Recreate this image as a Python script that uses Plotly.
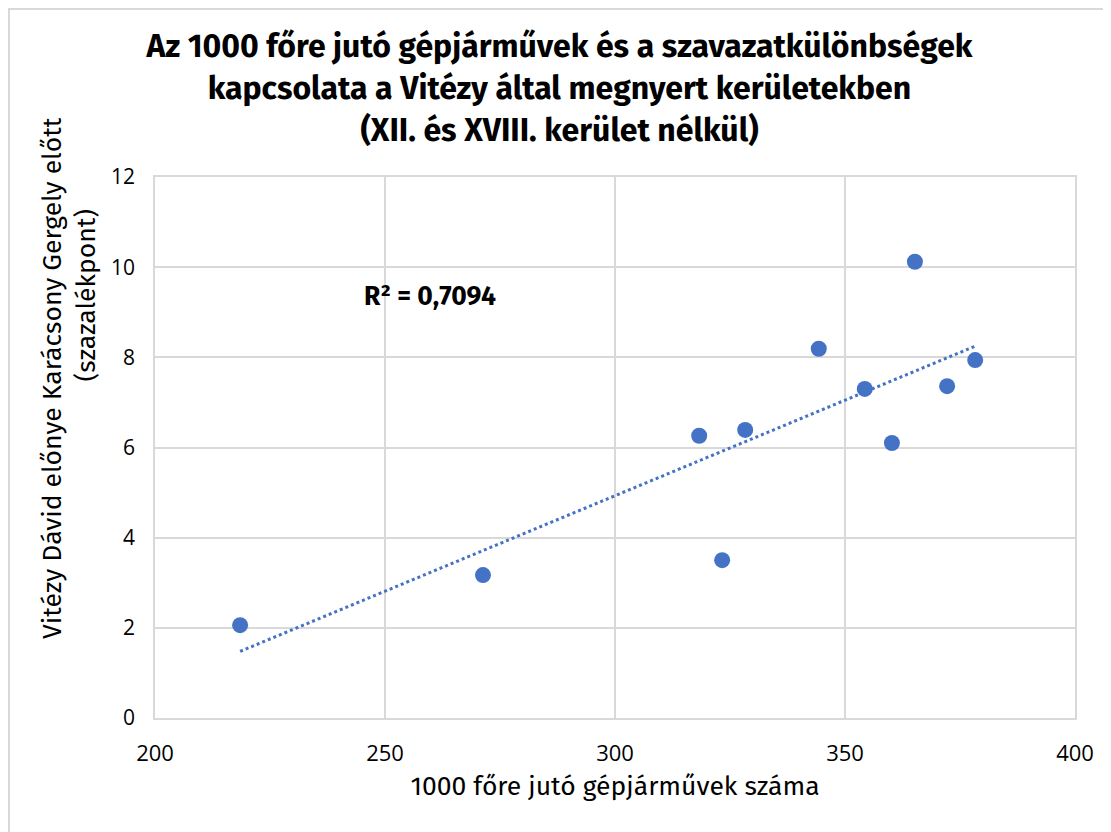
import numpy as np
import plotly.graph_objects as go

# data
cars_per_1000 = [218.5, 271.3, 318.3, 323.3, 328.3, 344.3, 354.3, 360.2, 365.2, 372.2, 378.3]
lead_points = [2.06, 3.17, 6.26, 3.50, 6.39, 8.19, 7.30, 6.10, 10.12, 7.36, 7.94]
r2_label = "R² = 0,7094"
x_ticks = [200, 250, 300, 350, 400]
y_ticks = [0, 2, 4, 6, 8, 10, 12]
y_title_lines = ["Vitézy Dávid előnye Karácsony Gergely előtt", "(szazalékpont)"]

color = "#4472C4"
font_family = "Fira Sans, Noto Sans, Open Sans, sans-serif"
tick_family = "Open Sans, sans-serif"

x = np.array(cars_per_1000)
y = np.array(lead_points)
slope, intercept = np.polyfit(x, y, 1)
tx = np.array([x.min(), x.max()])
ty = slope * tx + intercept

fig = go.Figure()
fig.add_trace(go.Scatter(x=tx, y=ty, mode="lines",
                         line=dict(color=color, width=3, dash="dot"),
                         hoverinfo="skip", showlegend=False))
fig.add_trace(go.Scatter(x=x, y=y, mode="markers",
                         marker=dict(color=color, size=16),
                         showlegend=False))

fig.add_annotation(x=0.225, y=9.36, xref="paper", yref="y",
                   text="<b>" + r2_label + "</b>", showarrow=False,
                   xanchor="left", yanchor="middle",
                   font=dict(size=26.5, color="#000000", family=font_family))

# y-axis title (two lines, placed as in the reference)
fig.add_annotation(x=-0.1120, y=0.6285, xref="paper", yref="paper",
                   text=y_title_lines[0], showarrow=False, textangle=-90,
                   xanchor="center", yanchor="middle",
                   font=dict(size=26.5, color="#000000", family=font_family))
fig.add_annotation(x=-0.0745, y=0.7819, xref="paper", yref="paper",
                   text=y_title_lines[1], showarrow=False, textangle=-90,
                   xanchor="center", yanchor="middle",
                   font=dict(size=26.5, color="#000000", family=font_family))

fig.update_layout(
    width=1103, height=824,
    paper_bgcolor="white", plot_bgcolor="white",
    margin=dict(l=147, r=36, t=169, b=114),
    title=dict(text="<b>Az 1000 főre jutó gépjárművek és a szavazatkülönbségek<br>kapcsolata a Vitézy által megnyert kerületekben<br>(XII. és XVIII. kerület nélkül)</b>",
               x=0.5, xanchor="center", y=0.94, yanchor="top",
               font=dict(size=32, color="#000000", family=font_family)),
    font=dict(family=font_family, color="#000000", size=18),
    xaxis=dict(range=[200, 400], tickvals=x_ticks, showgrid=True,
               gridcolor="#d9d9d9", gridwidth=1.5, zeroline=False,
               showline=True, linecolor="#d9d9d9", linewidth=1.5, mirror=True,
               ticks="", ticklen=0, ticklabelstandoff=15,
               tickfont=dict(size=22, family=tick_family),
               title=dict(text="1000 főre jutó gépjárművek száma", standoff=10,
                          font=dict(size=26.5, family=font_family))),
    yaxis=dict(range=[0, 12], tickvals=y_ticks, showgrid=True,
               gridcolor="#d9d9d9", gridwidth=1.5, zeroline=False,
               showline=True, linecolor="#d9d9d9", linewidth=1.5, mirror=True,
               ticks="", ticklen=0, ticklabelstandoff=14,
               tickfont=dict(size=21, family=tick_family)),
)

fig.add_shape(type="rect", xref="paper", yref="paper",
              x0=-0.1587, x1=1.038, y0=-0.35, y1=1.3105,
              line=dict(color="#d9d9d9", width=2))

fig.write_html("out.html")
